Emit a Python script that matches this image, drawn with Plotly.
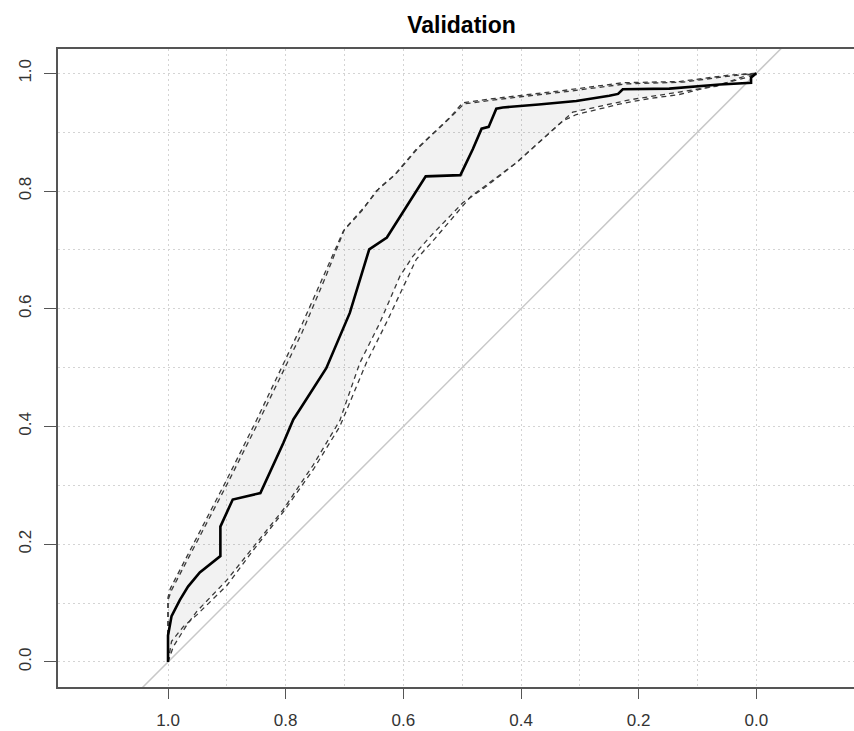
import plotly.graph_objects as go

# ---- data ----
roc_spec = [1.0, 1.0, 0.994, 0.980, 0.966, 0.946, 0.911, 0.911, 0.890, 0.843, 0.804, 0.787,
            0.776, 0.731, 0.691, 0.658, 0.628, 0.562, 0.503, 0.482, 0.467, 0.455, 0.442,
            0.431, 0.370, 0.306, 0.250, 0.235, 0.227, 0.148, 0.062, 0.023, 0.009, 0.009, 0.0]
roc_sens = [0.0, 0.045, 0.078, 0.105, 0.128, 0.152, 0.180, 0.230, 0.276, 0.287, 0.372, 0.412,
            0.429, 0.499, 0.593, 0.701, 0.721, 0.825, 0.827, 0.871, 0.906, 0.909, 0.940,
            0.942, 0.947, 0.953, 0.962, 0.965, 0.973, 0.974, 0.981, 0.983, 0.984, 0.993, 1.0]

upper1_spec = [1.0, 1.0, 0.996, 0.900, 0.849, 0.776, 0.736, 0.702, 0.671, 0.646, 0.617,
               0.578, 0.521, 0.499, 0.448, 0.334, 0.227, 0.131, 0.046, 0.0]
upper1_sens = [0.0, 0.110, 0.125, 0.310, 0.412, 0.565, 0.655, 0.732, 0.766, 0.800, 0.825,
               0.871, 0.925, 0.950, 0.957, 0.970, 0.984, 0.986, 0.997, 1.0]

upper2_spec = [1.0, 1.0, 0.994, 0.898, 0.846, 0.772, 0.733, 0.700, 0.667, 0.640, 0.612,
               0.575, 0.519, 0.497, 0.445, 0.330, 0.222, 0.125, 0.040, 0.0]
upper2_sens = [0.0, 0.105, 0.122, 0.305, 0.408, 0.560, 0.652, 0.735, 0.772, 0.806, 0.830,
               0.873, 0.926, 0.948, 0.955, 0.968, 0.982, 0.985, 0.996, 1.0]

lower1_spec = [1.0, 0.991, 0.968, 0.951, 0.900, 0.855, 0.804, 0.753, 0.708, 0.674, 0.640,
               0.606, 0.584, 0.555, 0.521, 0.499, 0.459, 0.408, 0.329, 0.312, 0.215,
               0.068, 0.012, 0.0]
lower1_sens = [0.0, 0.026, 0.063, 0.086, 0.139, 0.196, 0.259, 0.335, 0.410, 0.508, 0.576,
               0.655, 0.689, 0.722, 0.757, 0.780, 0.808, 0.848, 0.919, 0.934, 0.955,
               0.978, 0.998, 1.0]

lower2_spec = [1.0, 0.994, 0.974, 0.951, 0.900, 0.855, 0.804, 0.753, 0.708, 0.663, 0.629,
               0.600, 0.578, 0.550, 0.520, 0.485, 0.408, 0.329, 0.306, 0.227, 0.182,
               0.131, 0.075, 0.017, 0.0]
lower2_sens = [0.0, 0.035, 0.060, 0.080, 0.130, 0.190, 0.255, 0.327, 0.400, 0.508, 0.576,
               0.638, 0.684, 0.715, 0.750, 0.791, 0.848, 0.919, 0.930, 0.949, 0.957,
               0.964, 0.978, 0.993, 1.0]

diag_x = [1.2, -0.2]
diag_y = [-0.2, 1.2]

major_ticks = [0.0, 0.2, 0.4, 0.6, 0.8, 1.0]
major_labels = ["0.0", "0.2", "0.4", "0.6", "0.8", "1.0"]
minor_ticks = [0.1, 0.3, 0.5, 0.7, 0.9]

title_text = "Validation"

# ---- figure ----
fig = go.Figure()

# shaded confidence band (outer envelope)
band_x = upper1_spec + lower1_spec[::-1]
band_y = upper1_sens + lower1_sens[::-1]
fig.add_trace(go.Scatter(x=band_x, y=band_y, fill="toself", mode="lines",
                         fillcolor="rgba(0,0,0,0.05)", line=dict(width=0),
                         hoverinfo="skip", showlegend=False))

# diagonal reference line
fig.add_trace(go.Scatter(x=diag_x, y=diag_y, mode="lines",
                         line=dict(color="#c8c8c8", width=1.5), showlegend=False))

dash_style = dict(color="#3a3a3a", width=1.3, dash="5px,4px")
for xs, ys in [(upper1_spec, upper1_sens), (upper2_spec, upper2_sens),
               (lower1_spec, lower1_sens), (lower2_spec, lower2_sens)]:
    fig.add_trace(go.Scatter(x=xs, y=ys, mode="lines", line=dash_style, showlegend=False))

# ROC curve
fig.add_trace(go.Scatter(x=roc_spec, y=roc_sens, mode="lines",
                         line=dict(color="black", width=2.6), showlegend=False))

grid_kw = dict(showgrid=True, gridcolor="#d4d4d4", gridwidth=1, griddash="2px,3px")
minor_kw = dict(showgrid=True, gridcolor="#d4d4d4", gridwidth=1, griddash="2px,3px",
                tickvals=minor_ticks, ticks="")

fig.update_xaxes(range=[1.187, -0.166], tickvals=major_ticks, ticktext=major_labels,
                 ticks="outside", ticklen=10, tickwidth=1.2, tickcolor="#555",
                 showline=True, mirror=True, linecolor="#555", linewidth=1.5,
                 zeroline=False, ticklabelstandoff=7, automargin=False,
                 tickfont=dict(family="Liberation Sans, Arial", size=17, color="#333"),
                 minor=minor_kw, **grid_kw)
fig.update_yaxes(range=[-0.0425, 1.0413], tickvals=major_ticks, ticktext=major_labels,
                 ticks="outside", ticklen=12, tickwidth=1.2, tickcolor="#555",
                 showline=True, mirror=False, linecolor="#555", linewidth=1.5,
                 zeroline=False, tickangle=-90, ticklabelstandoff=6, automargin=False,
                 tickfont=dict(family="Liberation Sans, Arial", size=17, color="#333"),
                 minor=minor_kw, **grid_kw)

fig.update_layout(
    width=854, height=731,
    margin=dict(l=58, r=0, t=49, b=44, autoexpand=False),
    paper_bgcolor="white", plot_bgcolor="white",
    title=dict(text="<b>" + title_text + "</b>", x=461.5 / 854, xanchor="center",
               xref="container", y=1 - 25 / 731, yanchor="middle", yref="container",
               font=dict(family="Liberation Sans, Arial", size=23, color="black")),
    showlegend=False,
)

fig.write_html("out.html",
               config={"displayModeBar": False},
               post_script="document.body.style.margin='0px';"
                           "document.body.style.overflow='hidden';")
